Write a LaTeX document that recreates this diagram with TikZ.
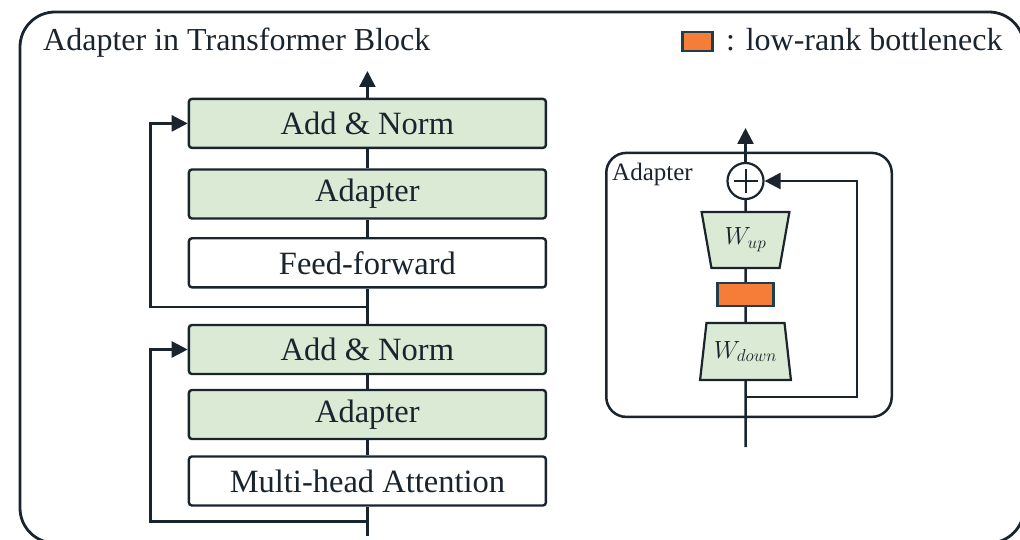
\documentclass[tikz,border=0pt]{standalone}
\usepackage{fontspec}
\setmainfont{Liberation Serif}
\usetikzlibrary{arrows.meta,shapes.geometric}

\definecolor{ink}{RGB}{26,36,46}
\definecolor{mint}{RGB}{218,234,212}
\definecolor{lrorange}{RGB}{245,125,55}
\definecolor{lredge}{RGB}{30,62,78}

\begin{document}
\begin{tikzpicture}[x=1pt,y=-1pt,
  big/.style={font=\fontsize{32}{38}\selectfont, text=ink},
  layer/.style={draw=ink, line width=2.4pt, rounded corners=3pt, fill=white,
    minimum width=357pt, minimum height=49pt, inner sep=0pt,
    font=\fontsize{32.5}{38}\selectfont, text=ink},
  greenlayer/.style={layer, fill=mint},
  flow/.style={draw=ink, line width=2.5pt},
  flowarrow/.style={flow, -{Triangle[length=16pt,width=16pt]}},
  proj/.style={trapezium, trapezium stretches=true, trapezium angle=76,
    draw=ink, line width=2.2pt, fill=mint, inner sep=0pt,
    font=\fontsize{27}{30}\selectfont, text=ink},
  bottleneck/.style={draw=lredge, fill=lrorange, line width=2.3pt, inner sep=0pt},
]
\useasboundingbox (0,0) rectangle (1020,540);
\clip (0,0) rectangle (1020,540);

% outer frame
\draw[ink, line width=2.8pt, rounded corners=35pt] (20,12) rectangle (1024,543);

% heading and legend
\node[big, anchor=base west, inner sep=0pt] (title) at (43,51) {Adapter in Transformer Block};
\node[bottleneck, minimum width=30pt, minimum height=19pt] (legbox) at (697.5,41.5) {};
\node[big, anchor=base west, inner sep=0pt] (legtext) at (726,51) {: low-rank bottleneck};

% transformer block with adapters
\node[greenlayer] (an1) at (367.4,123.4) {Add \& Norm};
\node[greenlayer] (ad1) at (367.4,194) {Adapter};
\node[layer] (ff) at (367.4,262.8) {Feed-forward};
\node[greenlayer] (an2) at (367.4,349.5) {Add \& Norm};
\node[greenlayer] (ad2) at (367.4,414.5) {Adapter};
\node[layer] (mha) at (367.4,481) {Multi-head Attention};

\coordinate (blockout) at (367.4,71);
\coordinate (res1) at (367.4,307);
\coordinate (res0) at (367.4,521.7);
\coordinate (blockin) at (367.4,536);
\coordinate (loop1) at (150.7,307);
\coordinate (loop0) at (150.7,521.7);

\draw[flow] (blockin) -- (mha.south);
\draw[flow] (mha.north) -- (ad2.south);
\draw[flow] (ad2.north) -- (an2.south);
\draw[flow] (an2.north) -- (ff.south);
\draw[flow] (ff.north) -- (ad1.south);
\draw[flow] (ad1.north) -- (an1.south);
\draw[flowarrow] (an1.north) -- (blockout);
\draw[flowarrow] (res0) -- (loop0) |- (an2.west);
\draw[flowarrow] (res1) -- (loop1) |- (an1.west);

% adapter detail
\node[draw=ink, line width=2.5pt, rounded corners=20pt, minimum width=285.5pt,
  minimum height=264pt, inner sep=0pt] (panel) at (749,284.9) {};
\node[anchor=base west, inner sep=0pt, font=\fontsize{25}{29}\selectfont, text=ink]
  (plabel) at (612,181) {Adapter};

\node[circle, draw=ink, line width=2.2pt, fill=white, minimum size=36pt, inner sep=0pt]
  (sum) at (745.5,181) {};
\draw[ink, line width=2pt] ([xshift=-12pt]sum.center) -- ([xshift=12pt]sum.center);
\draw[ink, line width=2pt] ([yshift=-12pt]sum.center) -- ([yshift=12pt]sum.center);

\node[proj, shape border rotate=180, minimum width=88pt, minimum height=56pt]
  (wup) at (745.5,240) {$W_{up}$};
\node[bottleneck, minimum width=56pt, minimum height=23pt] (lr) at (745.5,294.5) {};
\node[proj, minimum width=91pt, minimum height=57pt]
  (wdown) at (745.5,351.5) {$W_{down}$};

\coordinate (ain) at (745.5,447);
\coordinate (atap) at (745.5,397);
\coordinate (askip) at (857,397);
\coordinate (aout) at (745.5,128);

\draw[flow] (ain) -- (wdown.south);
\draw[flow] (wdown.north) -- (lr.south);
\draw[flow] (lr.north) -- (wup.south);
\draw[flow] (wup.north) -- (sum.south);
\draw[flowarrow] (sum.north) -- (aout);
\draw[flowarrow] (atap) -- (askip) |- (sum.east);
\end{tikzpicture}
\end{document}
